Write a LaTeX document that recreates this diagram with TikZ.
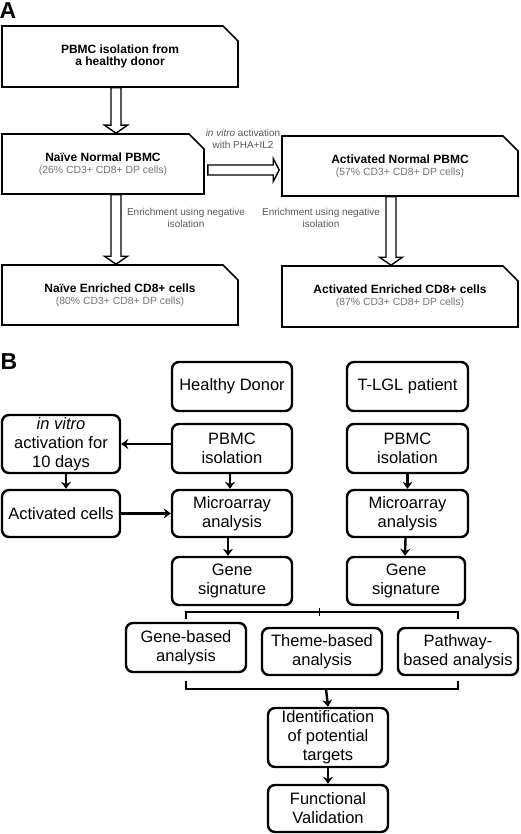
\documentclass[tikz,border=0pt]{standalone}
\usepackage{fontspec}
\setmainfont{Liberation Sans}
\usetikzlibrary{shapes.misc,arrows.meta,calc}

\tikzset{
  stagebox/.style={chamfered rectangle, chamfered rectangle corners=north east,
    chamfered rectangle xsep=12pt, draw, line width=1.6pt, inner sep=0pt, align=center},
  stepnode/.style={draw, line width=2.4pt, rounded corners=7pt, minimum width=120pt,
    minimum height=48pt, inner sep=1pt, align=center, font=\fontsize{16.5}{19}\selectfont},
  hollow/.style={draw, line width=1.4pt, fill=white, line join=miter},
  link/.style={line width=2.4pt},
  arrow/.style={link, -{Stealth[length=7pt,width=10pt]}},
  note/.style={text=black!65, align=center, font=\fontsize{10}{12}\selectfont},
  panel/.style={font=\bfseries\fontsize{23}{23}\selectfont},
}
\newcommand{\boxtitle}[1]{{\bfseries\fontsize{12}{14}\selectfont #1}}
\newcommand{\boxsub}[1]{{\color{black!55}\fontsize{10.4}{13}\selectfont #1}}
% hollow block arrows: {x or y}{from}{to}
\newcommand{\hollowdown}[3]{%
  \draw[hollow] let \p1=(#1,0 |- #2.south), \p2=(#1,0 |- #3.north) in
    (\x1-5pt,\y1) -- (\x1-5pt,\y2+8pt) -- (\x1-11.5pt,\y2+8pt) -- (\x2,\y2)
    -- (\x1+11.5pt,\y2+8pt) -- (\x1+5pt,\y2+8pt) -- (\x1+5pt,\y1) -- cycle;}
\newcommand{\hollowright}[3]{%
  \draw[hollow] let \p1=(#2.east |- 0,#1), \p2=(#3.west |- 0,#1) in
    (\x1+3pt,\y1+5pt) -- (\x2-8pt,\y1+5pt) -- (\x2-8pt,\y1+11.5pt) -- (\x2-2pt,\y1)
    -- (\x2-8pt,\y1-11.5pt) -- (\x2-8pt,\y1-5pt) -- (\x1+3pt,\y1-5pt) -- cycle;}

\begin{document}
\begin{tikzpicture}[x=1pt, y=-1pt]
  \useasboundingbox (0,0) rectangle (520,834);
  % --- Panel A: preparation of the cells ---
  \node[panel] (labA) at (8,11) {A};
  \node[stagebox, minimum width=236pt, minimum height=61pt] (donor) at (120,56.5)
    {\boxtitle{PBMC isolation from}\\\boxtitle{a healthy donor}};
  \node[stagebox, minimum width=202pt, minimum height=60pt] (naive) at (103,164)
    {\boxtitle{Naïve Normal PBMC}\\\boxsub{(26\% CD3+ CD8+ DP cells)}};
  \node[stagebox, minimum width=236pt, minimum height=60pt] (actnorm) at (400,166)
    {\boxtitle{Activated Normal PBMC}\\\boxsub{(57\% CD3+ CD8+ DP cells)}};
  \node[stagebox, minimum width=236pt, minimum height=60pt] (naiveenr) at (120,295)
    {\boxtitle{Naïve Enriched CD8+ cells}\\\boxsub{(80\% CD3+ CD8+ DP cells)}};
  \node[stagebox, minimum width=236pt, minimum height=61pt] (actenr) at (400,296.5)
    {\boxtitle{Activated Enriched CD8+ cells}\\\boxsub{(87\% CD3+ CD8+ DP cells)}};
  \hollowdown{116}{donor}{naive}
  \hollowright{170}{naive}{actnorm}
  \hollowdown{116}{naive}{naiveenr}
  \hollowdown{391}{actnorm}{actenr}
  \node[note] (actlbl) at (243,139) {\textit{in vitro} activation\\with PHA+IL2};
  \node[note] (enrlbl) at (186,218) {Enrichment using negative\\isolation};
  \node[note] (enrlbl2) at (321,218) {Enrichment using negative\\isolation};
  % --- Panel B: microarray workflow ---
  \node[panel] (labB) at (9,362) {B};
  \node[stepnode, minimum height=49pt] (hdonor) at (232,386.5) {Healthy Donor};
  \node[stepnode, minimum height=49pt, minimum width=121pt] (tlgl) at (407.5,386.5) {T-LGL patient};
  \node[stepnode, minimum width=118pt, minimum height=58pt] (invitro) at (61,444)
    {\textit{in vitro}\\activation for\\10 days};
  \node[stepnode, minimum height=49pt] (hpbmc) at (232,448.5) {PBMC\\isolation};
  \node[stepnode, minimum height=49pt, minimum width=121pt] (tpbmc) at (407.5,448.5) {PBMC\\isolation};
  \node[stepnode, minimum width=118pt, minimum height=47pt] (actcells) at (61,513.5) {Activated cells};
  \node[stepnode, minimum height=47pt] (hmicro) at (232,513.5) {Microarray\\analysis};
  \node[stepnode, minimum height=47pt, minimum width=121pt] (tmicro) at (407.5,513.5) {Microarray\\analysis};
  \node[stepnode] (hgene) at (232,581) {Gene\\signature};
  \node[stepnode, minimum width=118pt] (tgene) at (406,581) {Gene\\signature};
  \node[stepnode, minimum height=49pt] (genebased) at (186,647.5) {Gene-based\\analysis};
  \node[stepnode, minimum height=47pt] (themebased) at (322,651.5) {Theme-based\\analysis};
  \node[stepnode, minimum height=47pt] (pathbased) at (458,651.5) {Pathway-\\based analysis};
  \node[stepnode, minimum height=59pt] (ident) at (328,737.5) {Identification\\of potential\\targets};
  \node[stepnode, minimum height=47pt] (funcval) at (328,808.5) {Functional\\Validation};
  \draw[arrow] (hpbmc.west |- invitro.east) -- (invitro.east);
  \draw[arrow] ([xshift=5pt]invitro.south) -- ([xshift=5pt]actcells.north);
  \draw[arrow] (actcells.east) -- (hmicro.west |- actcells.east);
  \draw[arrow] ([xshift=-2pt]hpbmc.south) -- ([xshift=-2pt]hmicro.north);
  \draw[arrow] (tpbmc.south) -- (tmicro.north);
  \draw[arrow] ([xshift=-4pt]hmicro.south) -- ([xshift=-4pt]hgene.north);
  \draw[arrow] ([xshift=-2pt]tmicro.south) -- ([xshift=-1pt]tgene.north);
  % brackets joining the analyses
  \coordinate (split) at (319,612);
  \draw[link] ([yshift=3pt]genebased.north) |- (split) -| ([yshift=8pt]pathbased.north);
  \draw[line width=1pt] ([yshift=4pt]split) -- ([yshift=-4pt]split);
  \coordinate (merge) at (326,689);
  \draw[link] ([yshift=-8pt]genebased.south) |- (merge) -| ([yshift=-5pt]pathbased.south);
  \draw[arrow] (merge) -- (ident.north);
  \draw[arrow] (ident.south) -- (funcval.north);
\end{tikzpicture}
\end{document}
